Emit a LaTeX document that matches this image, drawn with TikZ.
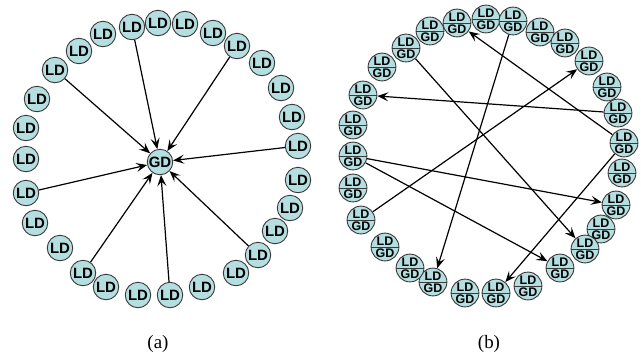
\documentclass[tikz,border=0pt]{standalone}
\usepackage{fontspec}
\setmainfont{Liberation Serif}
\setsansfont{Liberation Sans}
\usetikzlibrary{arrows.meta}
\definecolor{nodefill}{HTML}{B4DEDF}
\definecolor{nodeline}{HTML}{3A3A3A}
\begin{document}
\begin{tikzpicture}[x=1bp,y=-1bp,
  ld/.style={circle, draw=nodeline, line width=0.9bp, fill=nodefill, minimum size=25.5bp, inner sep=0pt,
    font=\sffamily\bfseries\fontsize{15}{15}\selectfont},
  lg/.style={circle, draw=nodeline, line width=0.9bp, fill=nodefill, minimum size=26bp, inner sep=0pt, align=center,
    font=\sffamily\bfseries\fontsize{12.5}{12}\selectfont,
    path picture={\draw[nodeline, line width=1bp] (path picture bounding box.west) -- (path picture bounding box.east);}},
  arr/.style={-{Stealth[length=11bp,width=9bp,inset=4.5bp]}, line width=1.2bp},
  captext/.style={font=\fontsize{19}{19}\selectfont}]
\useasboundingbox (0,0) rectangle (641,358);
% panel (a)
\foreach \i/\x/\y in {1/132/27,2/158/23,3/185/24,4/213/33,5/237/46,6/262/63,7/281/88,8/292/117,9/298/146,10/298/180,11/290/208,12/275/231,13/258/255,14/236/273,15/202/287,16/170/295,17/138/295,18/106/287,19/83/273,20/60/248,21/35/223,22/26/193,23/26/159,24/26/128,25/37/99,26/55/70,27/79/51,28/103/34}
  \node[ld] (a\i) at (\x,\y) {LD};
\node[ld] (ag) at (160,162) {GD};
\foreach \i in {1,5,9,13,16,19,22,26}
  \draw[arr] (a\i) -- (ag);
% panel (b)
\foreach \i/\x/\y in {1/457/23,2/486/19,3/513/21,4/540/32,5/565/43,6/589/61,7/607/87,8/618/113,9/624/143,10/622/173,11/616/205,12/601/229,13/585/249,14/560/268,15/528/286,16/496/293,17/465/293,18/433/282,19/410/268,20/385/247,21/361/220,22/353/188,23/353/156,24/353/125,25/363/95,26/382/67,27/406/48,28/430/31}
  \node[lg] (b\i) at (\x,\y) {LD\\GD};
\draw[arr] (b3) -- (b18);
\draw[arr] (b9) -- (b1);
\draw[arr] (b8) -- (b25);
\draw[arr] (b9) -- (b16);
\draw[arr] (b27) -- (b13);
\draw[arr] (b21) -- (b6);
\draw[arr] (b23) -- (b11);
\draw[arr] (b23) -- (b14);
\node[captext] (capa) at (158,344) {(a)};
\node[captext] (capb) at (489,344) {(b)};
\end{tikzpicture}
\end{document}
